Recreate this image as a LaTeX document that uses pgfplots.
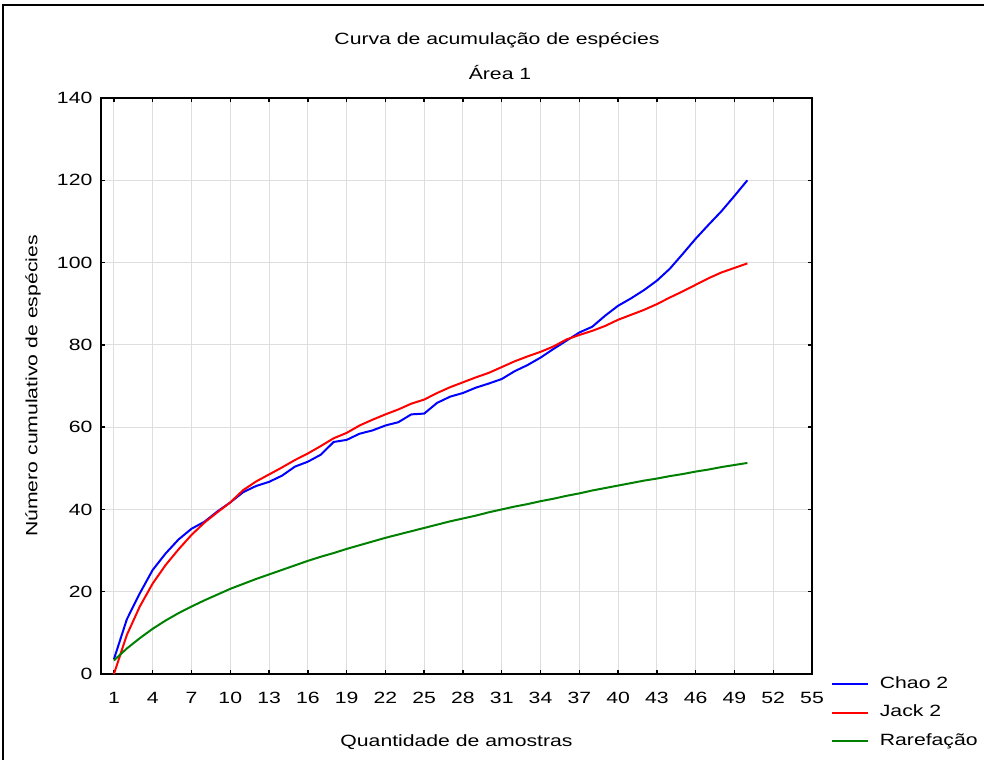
\documentclass[border=0pt]{standalone}
\usepackage{pgfplots}
\pgfplotsset{compat=1.18}
\usepackage{fontspec}
\setmainfont{Liberation Sans}[FakeStretch=1.3]

\definecolor{chaoblue}{RGB}{0,0,255}
\definecolor{jackred}{RGB}{255,0,0}
\definecolor{rarefgreen}{RGB}{0,128,0}
\definecolor{gridgray}{RGB}{222,222,222}

\newcommand{\chartfont}{\fontsize{8.15}{9.8}\selectfont}

\begin{document}
\begin{tikzpicture}[font=\chartfont]
\useasboundingbox (0,0) rectangle (492pt,380pt);
% outer frame (left and top edges)
\draw[line width=1pt] (1.5pt,0) -- (1.5pt,377.5pt) -- (492pt,377.5pt);

\begin{axis}[
  at={(50.5pt,43pt)}, anchor=south west,
  scale only axis, width=355.5pt, height=288pt,
  xmin=0, xmax=55, ymin=0, ymax=140,
  xtick={1,4,...,55},
  ytick={0,20,...,140},
  tick align=inside,
  major tick length=2.2pt,
  tick style={black, line width=0.7pt},
  axis line style={line width=1pt},
  grid=major,
  major grid style={gridgray, line width=0.5pt},
  /pgf/number format/assume math mode=true,
  xticklabel style={yshift=-5.5pt},
  yticklabel style={xshift=-0.8pt},
  legend style={draw=none, fill=none, at={(rel axis cs:1.026,0.0)}, anchor=north west,
    font=\chartfont, inner sep=0pt, row sep=4.3pt, column sep=4.5pt,
    nodes={inner sep=1pt, text depth=0.2em}},
  legend cell align=left,
  legend image code/.code={\draw[#1, line width=1pt] (0pt,0pt) -- (18pt,0pt);},
]
\addplot[chaoblue, line width=1pt] coordinates {
(1,3.6) (2,13.3) (3,19.6) (4,25.3) (5,29.3) (6,32.7) (7,35.3) (8,37.0) (9,39.5) (10,41.7)
(11,44.2) (12,45.7) (13,46.7) (14,48.2) (15,50.4) (16,51.6) (17,53.3) (18,56.4) (19,56.9) (20,58.4)
(21,59.2) (22,60.4) (23,61.2) (24,63.1) (25,63.3) (26,65.9) (27,67.4) (28,68.3) (29,69.6) (30,70.6)
(31,71.7) (32,73.6) (33,75.1) (34,76.9) (35,79.0) (36,81.0) (37,83.0) (38,84.4) (39,87.1) (40,89.5)
(41,91.3) (42,93.3) (43,95.6) (44,98.5) (45,102.1) (46,105.8) (47,109.2) (48,112.5) (49,116.2) (50,120.0)
};
\addlegendentry{Chao 2}
\addplot[jackred, line width=1pt] coordinates {
(1,0.0) (2,9.5) (3,16.4) (4,22.0) (5,26.5) (6,30.3) (7,33.8) (8,36.8) (9,39.3) (10,41.7)
(11,44.7) (12,46.8) (13,48.5) (14,50.2) (15,52.0) (16,53.6) (17,55.4) (18,57.3) (19,58.6) (20,60.4)
(21,61.8) (22,63.1) (23,64.3) (24,65.7) (25,66.7) (26,68.3) (27,69.7) (28,70.9) (29,72.1) (30,73.2)
(31,74.6) (32,76.0) (33,77.2) (34,78.3) (35,79.6) (36,81.3) (37,82.4) (38,83.4) (39,84.6) (40,86.1)
(41,87.3) (42,88.5) (43,89.9) (44,91.5) (45,93.0) (46,94.6) (47,96.2) (48,97.6) (49,98.7) (50,99.8)
};
\addlegendentry{Jack 2}
\addplot[rarefgreen, line width=1pt] coordinates {
(1,3.3) (2,6.2) (3,8.7) (4,11.0) (5,13.0) (6,14.8) (7,16.4) (8,17.9) (9,19.3) (10,20.7)
(11,21.9) (12,23.1) (13,24.2) (14,25.3) (15,26.4) (16,27.5) (17,28.5) (18,29.4) (19,30.4) (20,31.3)
(21,32.2) (22,33.1) (23,33.9) (24,34.7) (25,35.5) (26,36.3) (27,37.1) (28,37.8) (29,38.5) (30,39.3)
(31,40.0) (32,40.7) (33,41.3) (34,42.0) (35,42.6) (36,43.3) (37,43.9) (38,44.6) (39,45.2) (40,45.8)
(41,46.4) (42,47.0) (43,47.5) (44,48.1) (45,48.6) (46,49.2) (47,49.7) (48,50.3) (49,50.8) (50,51.3)
};
\addlegendentry{Rarefação}
\end{axis}

% titles and axis labels
\node at (248.5pt,360pt) {Curva de acumulação de espécies};
\node at (250pt,343.5pt) {Área 1};
\node at (228.25pt,9pt) {Quantidade de amostras};
\node[rotate=90] at (16.5pt,187pt) {Número cumulativo de espécies};
\end{tikzpicture}
\end{document}
